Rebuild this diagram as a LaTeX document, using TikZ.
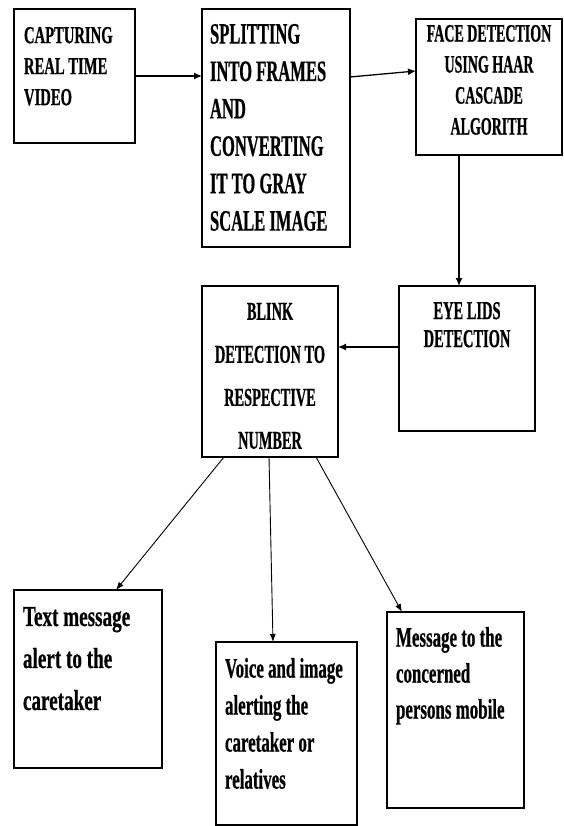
\documentclass[tikz,border=0pt]{standalone}
\usepackage{fontspec}
\usetikzlibrary{arrows.meta}
\newfontfamily\tnr[FakeStretch=0.6,FakeBold=0.6]{Liberation Serif}
\newfontfamily\tnrn[FakeStretch=0.56,FakeBold=0.6]{Liberation Serif}
\newfontfamily\tnrw[FakeStretch=0.66,FakeBold=0.6]{Liberation Serif}
\newcommand{\fsz}[2]{\tnr\bfseries\fontsize{#1}{#2}\selectfont}
\newcommand{\fszn}[2]{\tnrn\bfseries\fontsize{#1}{#2}\selectfont}
\newcommand{\fszw}[2]{\tnrw\bfseries\fontsize{#1}{#2}\selectfont}
\begin{document}
\begin{tikzpicture}[x=1pt,y=-1pt,
  box/.style={draw=black, line width=1.2pt, inner sep=0pt, outer sep=0pt, anchor=north west},
  lbl/.style={inner sep=0pt, outer sep=0pt, text=black},
  arr/.style={draw=black, line width=1.3pt, -{Latex[length=8pt,width=7pt]}},
  thinarr/.style={draw=black, line width=0.9pt, -{Latex[length=8pt,width=6pt]}}]
\useasboundingbox[fill=white] (0,0) rectangle (563,826);

% boxes
\node[box, minimum width=121pt, minimum height=134pt] (b1) at (14,9) {};
\node[box, minimum width=148pt, minimum height=238pt] (b2) at (202,9) {};
\node[box, minimum width=146pt, minimum height=136pt] (b3) at (416,19) {};
\node[box, minimum width=136pt, minimum height=171pt] (b4) at (202,286) {};
\node[box, minimum width=136pt, minimum height=145pt] (b5) at (399,286) {};
\node[box, minimum width=148pt, minimum height=178pt] (b6) at (14,590) {};
\node[box, minimum width=141pt, minimum height=183pt] (b7) at (216,642) {};
\node[box, minimum width=137pt, minimum height=196pt] (b8) at (387,612) {};

% texts
\node[lbl, anchor=north west, align=left, font=\fsz{24.4pt}{31pt}] (t1) at (24,27)
  {CAPTURING\\REAL TIME\\VIDEO};
\node[lbl, anchor=north west, align=left, font=\fszn{29.6pt}{37.4pt}] (t2) at (210,24)
  {SPLITTING\\INTO FRAMES\\AND\\CONVERTING\\IT TO GRAY\\SCALE IMAGE};
\node[lbl, anchor=north, align=center, font=\fszn{25pt}{31pt}] (t3) at (489,25)
  {FACE DETECTION\\USING HAAR\\CASCADE\\ALGORITH};
\node[lbl, anchor=north, align=center, font=\fszn{25.6pt}{43pt}] (t4) at (270,303)
  {BLINK\\DETECTION TO\\RESPECTIVE\\NUMBER};
\node[lbl, anchor=north, align=center, font=\fszn{25.8pt}{28pt}] (t5) at (467,302)
  {EYE LIDS\\DETECTION};
\node[lbl, anchor=north west, align=left, font=\fszw{29pt}{42pt}] (t6) at (23,607)
  {Text message\\alert to the\\caretaker};
\node[lbl, anchor=north west, align=left, font=\fsz{28.2pt}{37pt}] (t7) at (225,658)
  {Voice and image\\alerting the\\caretaker or\\relatives};
\node[lbl, anchor=north west, align=left, font=\fsz{28.2pt}{36pt}] (t8) at (396,627)
  {Message to the\\concerned\\persons mobile};

% connectors
\draw[arr] (b1.east) -- (b1.east -| b2.west);
\draw[arr] ([yshift=-68pt]b2.north east) -- ([yshift=-52pt]b3.north west);
\draw[arr] ([xshift=-30pt]b3.south) -- ([xshift=-30pt]b3.south |- b5.north);
\draw[arr] ([yshift=-61pt]b5.north west) -- ([yshift=-61pt]b5.north west -| b4.east);
\draw[thinarr] ([xshift=22pt]b4.south west) -- ([xshift=28pt]b6.north);
\draw[thinarr] ([xshift=-1pt]b4.south) -- ([xshift=-13.5pt]b7.north);
\draw[thinarr] ([xshift=-22pt]b4.south east) -- ([xshift=15pt]b8.north west);
\end{tikzpicture}
\end{document}
